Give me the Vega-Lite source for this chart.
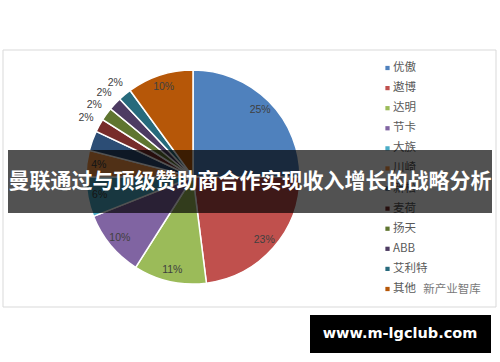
{
  "$schema": "https://vega.github.io/schema/vega-lite/v6.json",
  "width": 386,
  "height": 354,
  "autosize": {"type": "none"},
  "padding": {"left": 0, "top": 0, "right": 114, "bottom": 8},
  "background": "white",
  "config": {"view": {"stroke": null}},
  "data": {
    "values": [
      {"idx": 1, "name": "优傲", "value": 25},
      {"idx": 2, "name": "遨博", "value": 23},
      {"idx": 3, "name": "达明", "value": 11},
      {"idx": 4, "name": "节卡", "value": 10},
      {"idx": 5, "name": "大族", "value": 6},
      {"idx": 6, "name": "川崎", "value": 4},
      {"idx": 7, "name": "新松", "value": 3},
      {"idx": 8, "name": "麦荷", "value": 2},
      {"idx": 9, "name": "扬天", "value": 2},
      {"idx": 10, "name": "ABB", "value": 2},
      {"idx": 11, "name": "艾利特", "value": 2},
      {"idx": 12, "name": "其他", "value": 10}
    ]
  },
  "transform": [{"calculate": "datum.value + '%'", "as": "label"}],
  "layer": [
    {
      "data": {"values": [{}]},
      "mark": {"type": "rect", "x": 3, "y": 50, "x2": 496, "y2": 307, "fill": "white", "stroke": "#d9d9d9", "strokeWidth": 1},
      "encoding": {}
    },
    {
      "mark": {"type": "arc", "outerRadius": 107, "stroke": "white", "strokeWidth": 1.5},
      "encoding": {
        "theta": {"field": "value", "type": "quantitative", "stack": true},
        "order": {"field": "idx", "type": "quantitative"},
        "color": {
          "field": "name",
          "type": "nominal",
          "sort": null,
          "scale": {
            "domain": ["优傲", "遨博", "达明", "节卡", "大族", "川崎", "新松", "麦荷", "扬天", "ABB", "艾利特", "其他"],
            "range": ["#4F81BD", "#C0504D", "#9BBB59", "#8064A2", "#4BACC6", "#F79646", "#2C4D75", "#772C2A", "#5F7530", "#4D3B62", "#276A7C", "#B65708"]
          },
          "legend": null
        }
      }
    },
    {
      "mark": {"type": "text", "radius": 95, "fontSize": 10.5, "font": "Liberation Sans", "fill": "#404040"},
      "encoding": {
        "theta": {"field": "value", "type": "quantitative", "stack": true},
        "order": {"field": "idx", "type": "quantitative"},
        "detail": {"field": "name", "type": "nominal"},
        "text": {"field": "label", "type": "nominal"},
        "opacity": {"condition": {"test": "datum.value < 4", "value": 0}, "value": 1}
      }
    },
    {
      "mark": {"type": "text", "radius": 122, "fontSize": 10.5, "font": "Liberation Sans", "fill": "#404040"},
      "encoding": {
        "theta": {"field": "value", "type": "quantitative", "stack": true},
        "order": {"field": "idx", "type": "quantitative"},
        "detail": {"field": "name", "type": "nominal"},
        "text": {"field": "label", "type": "nominal"},
        "opacity": {"condition": {"test": "datum.value != 2", "value": 0}, "value": 1}
      }
    },
    {
      "mark": {"type": "square", "x": 387.5, "size": 18, "opacity": 1},
      "encoding": {
        "y": {"field": "name", "type": "nominal", "sort": null, "axis": null,
              "scale": {"type": "point", "domain": ["优傲", "遨博", "达明", "节卡", "大族", "川崎", "新松", "麦荷", "扬天", "ABB", "艾利特", "其他"], "range": [68, 289], "padding": 0}},
        "color": {"field": "name", "type": "nominal", "legend": null}
      }
    },
    {
      "mark": {"type": "text", "x": 393, "align": "left", "baseline": "middle", "fontSize": 11.5, "font": "Noto Sans CJK SC", "fill": "#595959"},
      "encoding": {
        "y": {"field": "name", "type": "nominal", "sort": null, "axis": null},
        "text": {"field": "name", "type": "nominal"}
      }
    },
    {
      "data": {"values": [{}]},
      "mark": {"type": "rect", "x": 8, "y": 150, "x2": 492, "y2": 213, "fill": "#000000", "opacity": 0.68},
      "encoding": {}
    },
    {
      "data": {"values": [{"t": "曼联通过与顶级赞助商合作实现收入增长的战略分析"}]},
      "mark": {"type": "text", "x": 250, "y": 182, "align": "center", "baseline": "middle", "fontSize": 21, "fontWeight": "bold", "font": "Noto Sans CJK SC", "fill": "white"},
      "encoding": {"text": {"field": "t"}}
    },
    {
      "data": {"values": [{}]},
      "mark": {"type": "rect", "x": 310, "y": 315, "x2": 491, "y2": 353, "fill": "#000000"},
      "encoding": {}
    },
    {
      "data": {"values": [{"t": "www.m-lgclub.com"}]},
      "mark": {"type": "text", "x": 400, "y": 334, "align": "center", "baseline": "middle", "fontSize": 14.5, "fontWeight": "bold", "font": "DejaVu Sans", "fill": "white"},
      "encoding": {"text": {"field": "t"}}
    },
    {
      "data": {"values": [{"t": "新产业智库"}]},
      "mark": {"type": "text", "x": 452, "y": 290, "align": "center", "baseline": "middle", "fontSize": 11.5, "font": "Noto Sans CJK SC", "fill": "#7a7a7a"},
      "encoding": {"text": {"field": "t"}}
    }
  ]
}
